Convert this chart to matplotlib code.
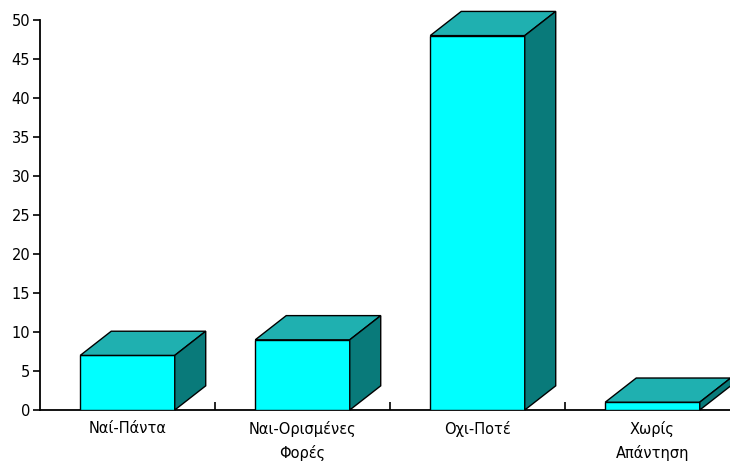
import matplotlib.pyplot as plt
from matplotlib.patches import Polygon

# Δεδομένα
kategories = ['Ναί-Πάντα', 'Ναι-Ορισμένες\nΦορές', 'Οχι-Ποτέ', 'Χωρίς\nΑπάντηση']
times = [7, 9, 48, 1]

front_color = '#00ffff'
top_color = '#1fb0b0'
side_color = '#097a7a'

fig = plt.figure(figsize=(7.3, 4.66), dpi=100)
ax = fig.add_axes([40 / 730, 56 / 466, 690 / 730, 390 / 466])

x = [i + 0.5 for i in range(len(times))]
width = 0.54
dx = 0.177   # βάθος σε μονάδες κατηγορίας
dy = 3.1     # βάθος σε μονάδες άξονα y

ax.bar(x, times, width=width, color=front_color, edgecolor='black', linewidth=1, zorder=3)

for xi, h in zip(x, times):
    left = xi - width / 2
    right = xi + width / 2
    top = Polygon([(left, h), (right, h), (right + dx, h + dy), (left + dx, h + dy)],
                  closed=True, facecolor=top_color, edgecolor='black', linewidth=1,
                  zorder=3, clip_on=False)
    side = Polygon([(right, 0), (right + dx, dy), (right + dx, h + dy), (right, h)],
                   closed=True, facecolor=side_color, edgecolor='black', linewidth=1,
                   zorder=3, clip_on=False)
    ax.add_patch(top)
    ax.add_patch(side)

ax.set_xlim(0, 690 / 175)
ax.set_ylim(0, 50)
ax.set_yticks(range(0, 51, 5))

# διαχωριστικά ticks μεταξύ κατηγοριών
ax.set_xticks([1, 2, 3])
ax.set_xticklabels([])
ax.tick_params(axis='x', which='major', direction='in', length=6, width=1.2)
ax.set_xticks(x, minor=True)
ax.set_xticklabels(kategories, minor=True, fontsize=10.5, linespacing=1.6, va='top')
ax.tick_params(axis='x', which='minor', length=0, pad=8)

ax.tick_params(axis='y', direction='out', length=5, width=1.2, labelsize=10.5, pad=2)

for s in ['top', 'right']:
    ax.spines[s].set_visible(False)
for s in ['left', 'bottom']:
    ax.spines[s].set_linewidth(1.3)

fig.savefig('out.png', dpi=100)
